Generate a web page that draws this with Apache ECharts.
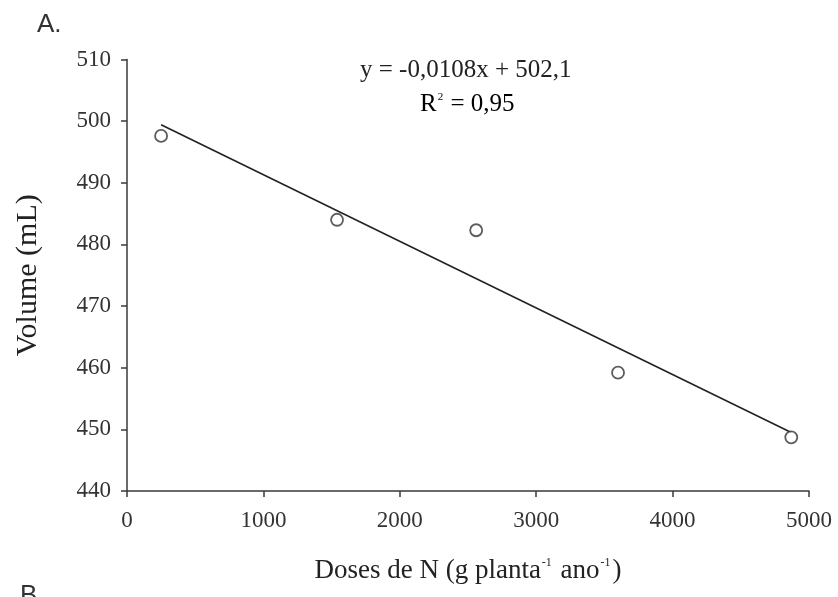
<!DOCTYPE html>
<html>
<head>
<meta charset="utf-8">
<title>Volume vs Doses de N</title>
<script src="https://cdn.jsdelivr.net/npm/echarts@6/dist/echarts.min.js"></script>
<style>
  html, body { margin: 0; padding: 0; background: #fff; }
  #chart { width: 838px; height: 597px; }
</style>
</head>
<body>
<div id="chart"></div>
<script>
// Observed means: N dose (g planta^-1 ano^-1) and volume (mL)
const doses = [250, 1540, 2560, 3600, 4870];
const volumes = [497.6, 484.0, 482.3, 459.2, 448.7];

// Fitted linear regression, as printed on the plot
const slope = -0.0108;
const intercept = 502.1;
const rSquared = 0.95;
const fitRange = [250, 4870];

// Axis ticks
const xTicks = [0, 1000, 2000, 3000, 4000, 5000];
const yTicks = [440, 450, 460, 470, 480, 490, 500, 510];

const fmt = (v, d) => v.toFixed(d).replace('.', ',');
const eqText = 'y = ' + fmt(slope, 4) + 'x + ' + fmt(intercept, 1);

const points = doses.map((d, i) => [d, volumes[i]]);
const fitLine = fitRange.map(x => [x, slope * x + intercept]);

const serif = '"Liberation Serif", "DejaVu Serif", serif';
const axisColor = '#3a3a3a';

const chart = echarts.init(document.getElementById('chart'));
chart.setOption({
  backgroundColor: '#ffffff',
  animation: false,
  grid: { left: 127, right: 29, top: 59.5, bottom: 106, containLabel: false },
  xAxis: {
    type: 'value',
    min: xTicks[0],
    max: xTicks[xTicks.length - 1],
    interval: 1000,
    name: '{t|Doses de N (g planta}{s|-1}{t| ano}{s|-1}{t|)}',
    nameLocation: 'middle',
    nameGap: 66,
    nameTextStyle: {
      rich: {
        t: { fontFamily: serif, fontSize: 27, color: '#222' },
        s: { fontFamily: serif, fontSize: 12, color: '#222', verticalAlign: 'top', padding: [0, 2, 14, 1] }
      }
    },
    axisLine: { show: true, onZero: false, lineStyle: { color: axisColor, width: 1.5 } },
    axisTick: { show: true, inside: false, length: 6, lineStyle: { color: axisColor, width: 1.5 } },
    axisLabel: {
      margin: 18, fontFamily: serif, fontSize: 23, color: '#333',
      formatter: v => String(v)
    },
    splitLine: { show: false }
  },
  yAxis: {
    type: 'value',
    min: yTicks[0],
    max: yTicks[yTicks.length - 1],
    interval: 10,
    name: 'Volume (mL)',
    nameLocation: 'middle',
    nameGap: 84,
    nameTextStyle: { fontFamily: serif, fontSize: 30, color: '#222' },
    axisLine: { show: true, onZero: false, lineStyle: { color: axisColor, width: 1.5 } },
    axisTick: { show: true, inside: false, length: 6, lineStyle: { color: axisColor, width: 1.5 } },
    axisLabel: {
      margin: 16, fontFamily: serif, fontSize: 23, color: '#333',
      formatter: v => String(v)
    },
    splitLine: { show: false }
  },
  series: [
    {
      type: 'line',
      data: fitLine,
      symbol: 'none',
      lineStyle: { color: '#222', width: 1.6 },
      z: 2
    },
    {
      type: 'scatter',
      data: points,
      symbol: 'circle',
      symbolSize: 12,
      itemStyle: { color: '#ffffff', borderColor: '#333', borderWidth: 1.8 },
      z: 3
    }
  ],
  graphic: [
    {
      type: 'text', left: 37, top: 12,
      style: { text: 'A.', font: '26px "Liberation Sans", Arial, sans-serif', fill: '#333' }
    },
    {
      type: 'text', left: 20, top: 583,
      style: { text: 'B.', font: '26px "Liberation Sans", Arial, sans-serif', fill: '#333' }
    },
    {
      type: 'text', left: 360, top: 58,
      style: { text: eqText, font: '25px ' + serif, fill: '#222' }
    },
    {
      type: 'text', left: 420, top: 92,
      style: {
        text: '{t|R}{s|2}{t| = ' + fmt(rSquared, 2) + '}',
        rich: {
          t: { fontFamily: serif, fontSize: 25, color: '#222' },
          s: { fontFamily: serif, fontSize: 11, color: '#222', verticalAlign: 'top', padding: [0, 1, 12, 1] }
        }
      }
    }
  ]
});
</script>
</body>
</html>
